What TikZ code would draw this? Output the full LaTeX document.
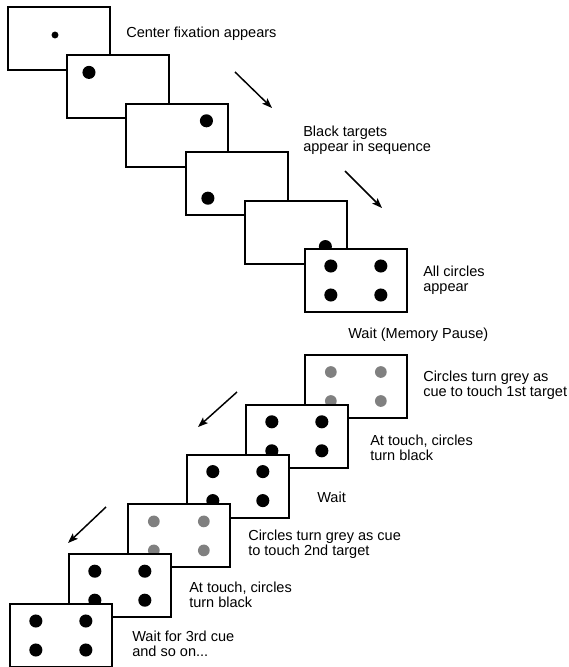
\documentclass[tikz,border=0pt]{standalone}
\usepackage{fontspec}
\setmainfont{Liberation Sans}
\usetikzlibrary{positioning,arrows.meta}
\definecolor{cuegrey}{RGB}{128,128,128}

\begin{document}
\begin{tikzpicture}[x=0.75pt, y=-0.75pt, on grid, node distance={36.3pt and 44.6pt},
  screen/.style = {draw, line width=1.5pt, fill=white, inner sep=0pt, minimum width=76.5pt, minimum height=47.25pt},
  txt/.style = {anchor=north west, inner sep=0pt, align=left, font=\fontsize{10.9}{11.25}\selectfont},
  cue/.style = {line width=1.1pt, -{Stealth[length=7.5pt, width=5.5pt, inset=1.5pt]}}]
\useasboundingbox (0,0) rectangle (568,667);
\clip (0,0) rectangle (568,666);
% presentation phase
\node[screen] (s1) at (58.5,38.5) {};
\fill (s1.center) ++(-3.5,-3.5) circle[radius=2.6pt];
\node[screen] (s2) [below right=of s1] {};
\fill (s2.center) ++(-29,-14.5) circle[radius=4.9pt];
\node[screen] (s3) [below right=of s2] {};
\fill (s3.center) ++(29,-14.5) circle[radius=4.9pt];
\node[screen] (s4) [below right=of s3] {};
\fill (s4.center) ++(-29,14.5) circle[radius=4.9pt];
\node[screen] (s5) [below right=of s4] {};
\fill (s5.center) ++(29,14.5) circle[radius=4.9pt];
\node[screen] (s6) [below right=of s5] {};
\fill (s6.center) ++(-25,-14.5) circle[radius=4.9pt];
\fill (s6.center) ++(25,-14.5) circle[radius=4.9pt];
\fill (s6.center) ++(-25,14.5) circle[radius=4.9pt];
\fill (s6.center) ++(25,14.5) circle[radius=4.9pt];
% recall phase
\node[screen] (s7) [below=79.5pt of s6] {};
\fill[cuegrey] (s7.center) ++(-25,-14.5) circle[radius=4.4pt];
\fill[cuegrey] (s7.center) ++(25,-14.5) circle[radius=4.4pt];
\fill[cuegrey] (s7.center) ++(-25,14.5) circle[radius=4.4pt];
\fill[cuegrey] (s7.center) ++(25,14.5) circle[radius=4.4pt];
\node[screen] (s8) [below left=37.35pt and 44.25pt of s7] {};
\fill (s8.center) ++(-25,-14.5) circle[radius=4.9pt];
\fill (s8.center) ++(25,-14.5) circle[radius=4.9pt];
\fill (s8.center) ++(-25,14.5) circle[radius=4.9pt];
\fill (s8.center) ++(25,14.5) circle[radius=4.9pt];
\node[screen] (s9) [below left=37.35pt and 44.25pt of s8] {};
\fill (s9.center) ++(-25,-14.5) circle[radius=4.9pt];
\fill (s9.center) ++(25,-14.5) circle[radius=4.9pt];
\fill (s9.center) ++(-25,14.5) circle[radius=4.9pt];
\fill (s9.center) ++(25,14.5) circle[radius=4.9pt];
\node[screen] (s10) [below left=37.35pt and 44.25pt of s9] {};
\fill[cuegrey] (s10.center) ++(-25,-14.5) circle[radius=4.4pt];
\fill[cuegrey] (s10.center) ++(25,-14.5) circle[radius=4.4pt];
\fill[cuegrey] (s10.center) ++(-25,14.5) circle[radius=4.4pt];
\fill[cuegrey] (s10.center) ++(25,14.5) circle[radius=4.4pt];
\node[screen] (s11) [below left=37.35pt and 44.25pt of s10] {};
\fill (s11.center) ++(-25,-14.5) circle[radius=4.9pt];
\fill (s11.center) ++(25,-14.5) circle[radius=4.9pt];
\fill (s11.center) ++(-25,14.5) circle[radius=4.9pt];
\fill (s11.center) ++(25,14.5) circle[radius=4.9pt];
\node[screen] (s12) [below left=37.35pt and 44.25pt of s11] {};
\fill (s12.center) ++(-25,-14.5) circle[radius=4.9pt];
\fill (s12.center) ++(25,-14.5) circle[radius=4.9pt];
\fill (s12.center) ++(-25,14.5) circle[radius=4.9pt];
\fill (s12.center) ++(25,14.5) circle[radius=4.9pt];
% labels
\node[txt] (t1) at (126,27) {Center fixation appears};
\node[txt] (t2) at (303,126) {Black targets\\appear in sequence};
\node[txt] (t3) at (423,266) {All circles\\appear};
\node[txt] (t4) at (348,328) {Wait (Memory Pause)};
\node[txt] (t5) at (423,371) {Circles turn grey as\\cue to touch 1st target};
\node[txt] (t6) at (370,435) {At touch, circles\\turn black};
\node[txt] (t7) at (317,492) {Wait};
\node[txt] (t8) at (248,530) {Circles turn grey as cue\\to touch 2nd target};
\node[txt] (t9) at (189,582) {At touch, circles\\turn black};
\node[txt] (t10) at (132,631) {Wait for 3rd cue\\and so on...};
% arrows
\coordinate (c1a) at (235,72);
\coordinate (c1b) at (272,108);
\coordinate (c2a) at (345,171);
\coordinate (c2b) at (382,208);
\coordinate (c3a) at (237,392);
\coordinate (c3b) at (198,427);
\coordinate (c4a) at (106,507);
\coordinate (c4b) at (68,543);
\draw[cue] (c1a) -- (c1b);
\draw[cue] (c2a) -- (c2b);
\draw[cue] (c3a) -- (c3b);
\draw[cue] (c4a) -- (c4b);
\end{tikzpicture}
\end{document}
